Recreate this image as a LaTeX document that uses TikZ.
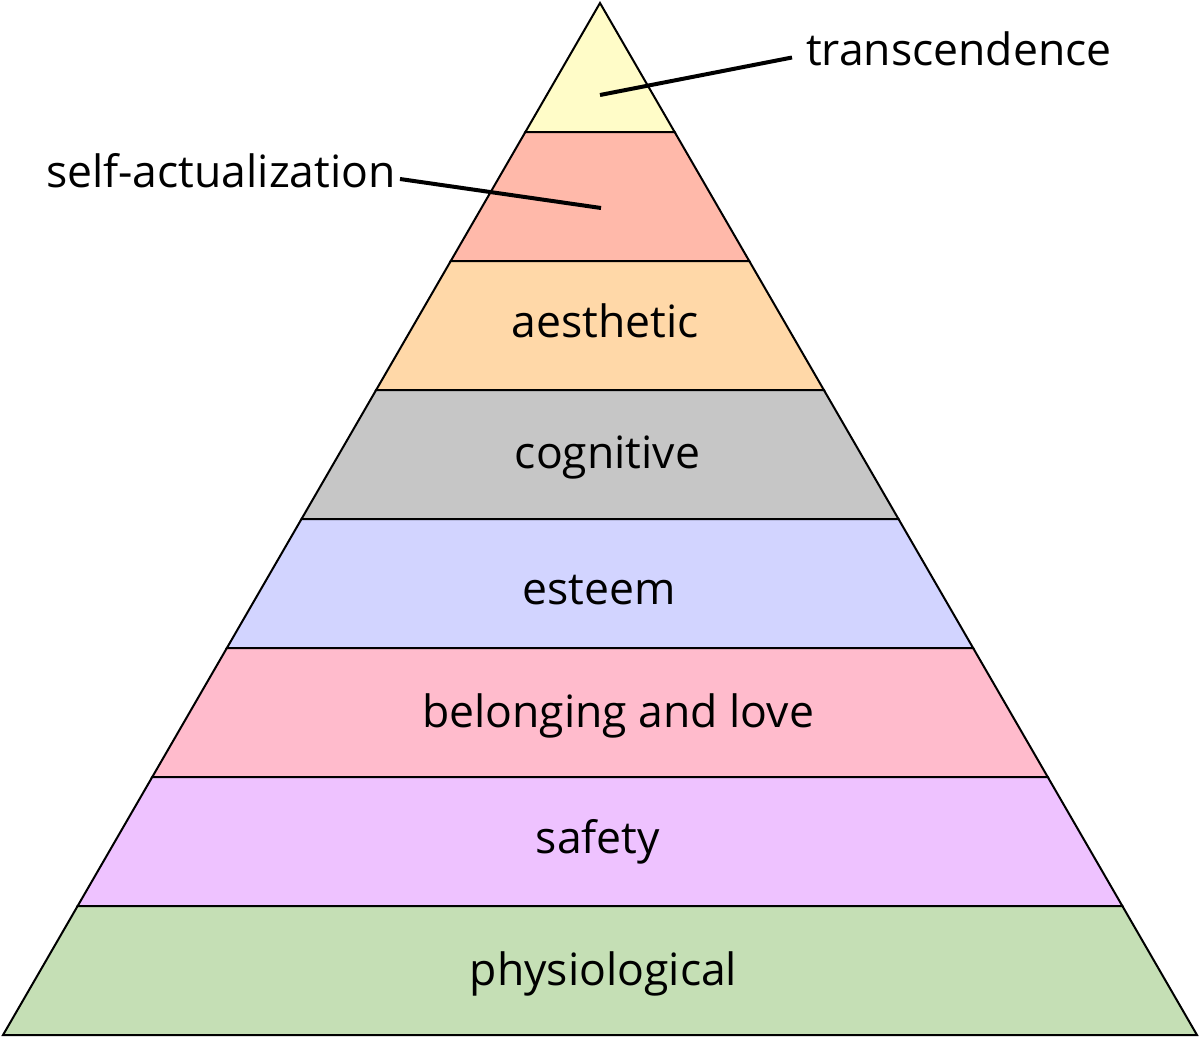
\documentclass[tikz,border=0pt]{standalone}
\usepackage{fontspec}
\setmainfont{Open Sans}
\usetikzlibrary{positioning}
\definecolor{transcol}{RGB}{255,252,200}
\definecolor{selfcol}{RGB}{255,185,170}
\definecolor{aestcol}{RGB}{255,216,168}
\definecolor{cogcol}{RGB}{198,198,198}
\definecolor{esteemcol}{RGB}{210,212,255}
\definecolor{lovecol}{RGB}{255,187,204}
\definecolor{safecol}{RGB}{238,194,255}
\definecolor{physcol}{RGB}{197,223,181}
\tikzset{
  layer/.style={draw=black,line width=2pt,line join=miter},
  lbl/.style={font=\fontsize{44.5}{52}\selectfont,anchor=base,inner sep=0pt},
  leader/.style={draw=black,line width=4pt}
}

\begin{document}
\begin{tikzpicture}[x=1pt,y=-1pt]
\useasboundingbox (0,0) rectangle (1200,1039);
\foreach \k/\c in {0/transcol,1/selfcol,2/aestcol,3/cogcol,4/esteemcol,5/lovecol,6/safecol,7/physcol}{
  \pgfmathsetmacro\ya{3+129*\k}
  \pgfmathsetmacro\yb{\ya+129}
  \pgfmathsetmacro\wa{(597/1032)*(\ya-3)}
  \pgfmathsetmacro\wb{(597/1032)*(\yb-3)}
  \filldraw[layer,fill=\c] (600-\wa,\ya) -- (600+\wa,\ya) -- (600+\wb,\yb) -- (600-\wb,\yb) -- cycle;
}
\node[lbl] (aesthetic) at (605.5,337) {aesthetic};
\node[lbl] (cognitive) at (607.5,468) {cognitive};
\node[lbl] (esteem) at (599,604) {esteem};
\node[lbl] (love) at (618,727) {belonging and love};
\node[lbl] (safety) at (598,853) {safety};
\node[lbl] (physiological) at (603.5,985) {physiological};
\node[lbl,anchor=base west,inner xsep=14pt] (transcendence) at (792,65) {transcendence};
\node[lbl,anchor=base east,inner xsep=4pt] (selfact) at (400,187) {self-actualization};
\coordinate (transpt) at (600,95);
\coordinate (selfpt) at (601,208);
\draw[leader] (transpt) -- ([yshift=7.5pt]transcendence.base west);
\draw[leader] (selfpt) -- ([yshift=8pt]selfact.base east);
\end{tikzpicture}
\end{document}
